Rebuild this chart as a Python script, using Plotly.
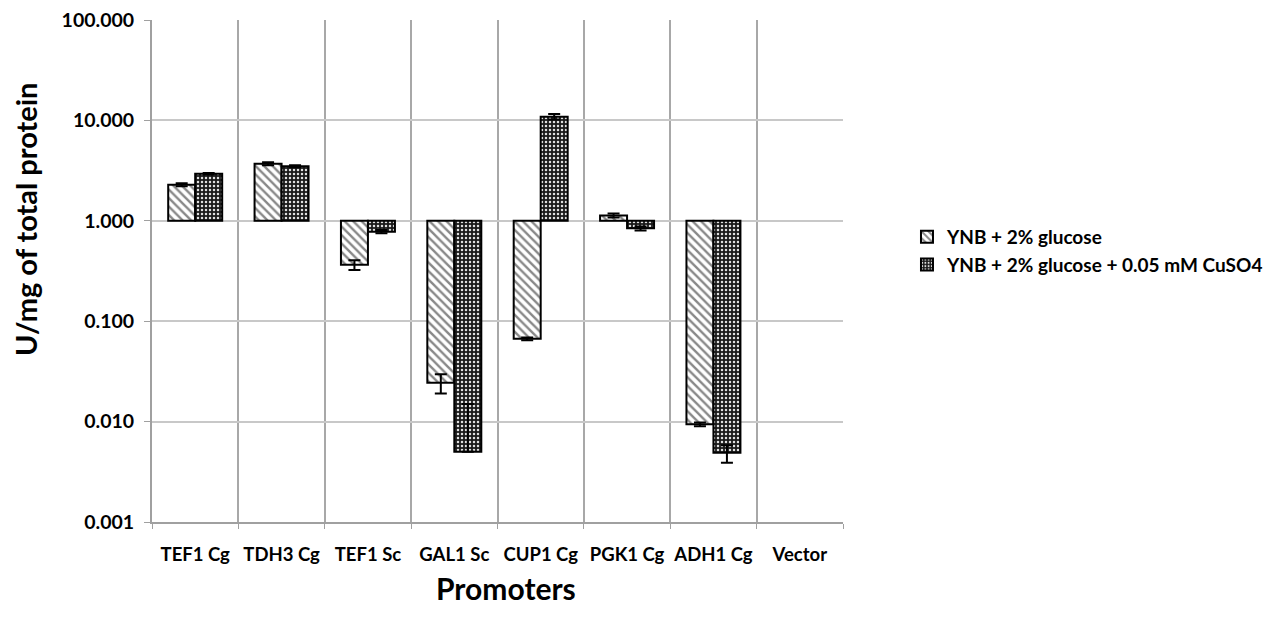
import plotly.graph_objects as go

categories = ["TEF1 Cg", "TDH3 Cg", "TEF1 Sc", "GAL1 Sc", "CUP1 Cg", "PGK1 Cg", "ADH1 Cg", "Vector"]
glucose = [2.29, 3.7, 0.364, 0.0244, 0.0667, 1.13, 0.0094, None]
glucose_err = [0.08, 0.12, 0.04, 0.0053, 0.002, 0.05, 0.0004, None]
cuso4 = [2.94, 3.5, 0.78, 0.005, 10.9, 0.845, 0.0049, None]
cuso4_err_plus = [0.05, 0.08, 0.03, 0.010, 0.7, 0.03, 0.0009, None]
cuso4_err_minus = [0.05, 0.08, 0.03, 0.0, 0.7, 0.045, 0.0010, None]
ytickvals = [0.001, 0.01, 0.1, 1, 10, 100]
yticktext = ["0.001", "0.010", "0.100", "1.000", "10.000", "100.000"]

BASE = 1.0

def rel(vals):
    return [None if v is None else v - BASE for v in vals]

fig = go.Figure()
fig.add_trace(go.Bar(
    name="YNB + 2% glucose",
    x=categories, y=rel(glucose), base=BASE,
    marker=dict(color="white", line=dict(color="black", width=2),
                pattern=dict(shape="\\", fgcolor="#111", bgcolor="white", size=6, solidity=0.4)),
    error_y=dict(type="data", array=glucose_err, color="black", thickness=2, width=6),
))
fig.add_trace(go.Bar(
    name="YNB + 2% glucose + 0.05 mM CuSO4",
    x=categories, y=rel(cuso4), base=BASE,
    marker=dict(color="#1a1a1a", line=dict(color="black", width=2),
                pattern=dict(shape=".", fgcolor="#e0e0e0", bgcolor="#1a1a1a", size=4, solidity=0.3, fillmode="replace")),
    error_y=dict(type="data", symmetric=False, array=cuso4_err_plus, arrayminus=cuso4_err_minus,
                 color="black", thickness=2, width=6),
))

FF = "Lato, Open Sans, Arial"
fig.update_layout(
    width=1277, height=628,
    margin=dict(l=144, r=442, t=12, b=114, autoexpand=False),
    paper_bgcolor="white", plot_bgcolor="white",
    barmode="group", bargap=0.375, bargroupgap=0,
    font=dict(family=FF, color="black"),
    legend=dict(x=1.0926, y=0.54, xanchor="left", yanchor="middle",
                font=dict(size=19, family=FF, weight="bold"),
                itemwidth=30),
    showlegend=True,
    annotations=[
        dict(text="U/mg of total protein", textangle=-90, xref="paper", yref="paper",
             x=(25 - 152) / 691, y=(522 - 220) / 502, xanchor="center", yanchor="middle",
             showarrow=False, font=dict(size=29, family=FF, weight="bold")),
        dict(text="Promoters", xref="paper", yref="paper",
             x=(506 - 152) / 691, y=-(588 - 522) / 502, xanchor="center", yanchor="middle",
             showarrow=False, font=dict(size=30, family=FF, weight="bold")),
    ],
)
fig.update_xaxes(
    type="category", tickson="boundaries", showgrid=True, gridcolor="#a8a8a8", gridwidth=2,
    showline=True, linecolor="#a0a0a0", linewidth=2, ticks="outside", ticklen=5, tickcolor="#a0a0a0",
    tickfont=dict(size=18.5, family=FF, weight="bold"), ticklabelstandoff=15, tickangle=0,
    ticklabeloverflow="allow", automargin=False,
)
fig.update_yaxes(
    type="log", range=[-3, 2], tickvals=ytickvals, ticktext=yticktext,
    showgrid=True, gridcolor="#c8c8c8", gridwidth=2,
    showline=True, linecolor="#a0a0a0", linewidth=2, ticks="outside", ticklen=6, tickcolor="#a0a0a0",
    tickfont=dict(size=19.5, family=FF, weight="bold"), ticklabelstandoff=6,
    ticklabeloverflow="allow", automargin=False,
    zeroline=False,
)
fig.write_html("out.html")
